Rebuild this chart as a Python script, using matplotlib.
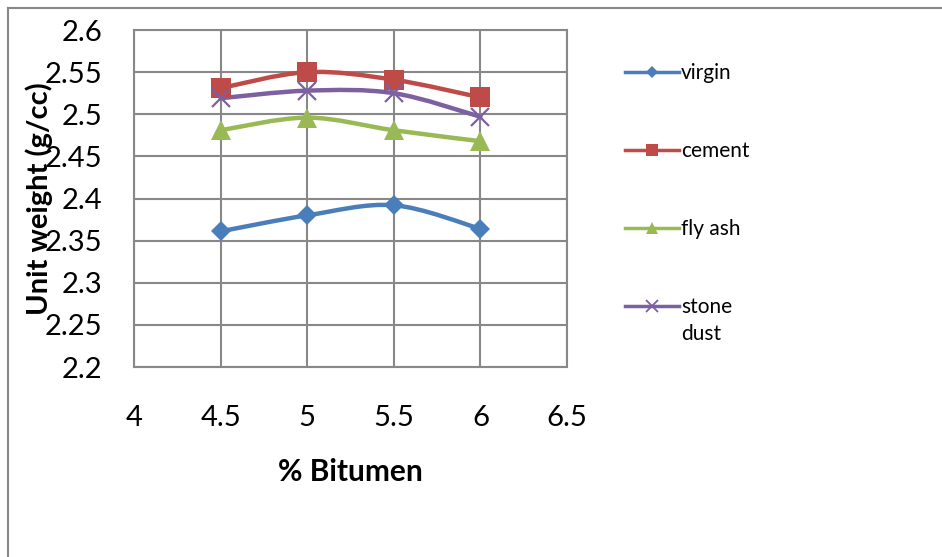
import matplotlib
matplotlib.use("Agg")
import matplotlib.pyplot as plt
from matplotlib.path import Path
from matplotlib.patches import PathPatch
from matplotlib.lines import Line2D
import numpy as np

plt.rcParams['font.family'] = ['Lato', 'DejaVu Sans']

# data
bitumen = [4.5, 5.0, 5.5, 6.0]
virgin = [2.361, 2.380, 2.392, 2.364]
cement = [2.531, 2.550, 2.541, 2.520]
fly_ash = [2.481, 2.496, 2.481, 2.468]
stone_dust = [2.519, 2.528, 2.525, 2.497]

series_names = ["virgin", "cement", "fly ash", "stone\ndust"]
series_values = [virgin, cement, fly_ash, stone_dust]
colors = ["#4A7EBB", "#BE4B48", "#98B954", "#7D60A0"]
markers = ["D", "s", "^", "x"]
marker_sizes = [10, 14, 14, 13]

x_ticks = [4, 4.5, 5, 5.5, 6, 6.5]
y_ticks = [2.2, 2.25, 2.3, 2.35, 2.4, 2.45, 2.5, 2.55, 2.6]

GRID = "#888888"
LEG_FS = 15


def smooth_path(xs, ys):
    # Excel-like smoothed line: cubic bezier segments through each point
    pts = np.column_stack([xs, ys]).astype(float)
    ext = np.vstack([pts[0], pts, pts[-1]])
    verts = [tuple(pts[0])]
    codes = [Path.MOVETO]
    for i in range(len(pts) - 1):
        p0, p1, p2, p3 = ext[i], ext[i + 1], ext[i + 2], ext[i + 3]
        c1 = p1 + (p2 - p0) / 6.0
        c2 = p2 - (p3 - p1) / 6.0
        verts += [tuple(c1), tuple(c2), tuple(p2)]
        codes += [Path.CURVE4] * 3
    return Path(verts, codes)


fig = plt.figure(figsize=(9.42, 5.57), dpi=100)
ax = fig.add_axes([134 / 942, 1 - 367 / 557, 433 / 942, 337 / 557])

handles = []
for name, vals, c, m, ms in zip(series_names, series_values, colors, markers, marker_sizes):
    ax.add_patch(PathPatch(smooth_path(bitumen, vals), facecolor="none",
                           edgecolor=c, lw=3.2, capstyle="round", joinstyle="round", zorder=3))
    mew = 1.6 if m == "x" else 0
    ax.plot(bitumen, vals, linestyle="none", marker=m, ms=ms, color=c,
            mec=c, mew=mew, zorder=4)
    handles.append(Line2D([], [], color=c, lw=2.5, marker=m, ms=ms * 0.62,
                          mec=c, mew=1.3 if m == "x" else 0))

ax.set_xlim(4, 6.5)
ax.set_ylim(2.2, 2.6)
ax.set_xticks(x_ticks)
ax.set_yticks(y_ticks)
ax.set_xticklabels([f"{v:g}" for v in x_ticks])
ax.set_yticklabels([f"{v:g}" for v in y_ticks])
ax.tick_params(length=0, labelsize=21, colors="black")
ax.tick_params(axis="x", pad=27)
ax.tick_params(axis="y", pad=23)
ax.grid(True, color=GRID, lw=1.5)
ax.set_axisbelow(True)
for s in ax.spines.values():
    s.set_color(GRID)
    s.set_linewidth(1.5)

ax.set_xlabel("% Bitumen", fontsize=21.5, fontweight="bold", labelpad=20)
ax.set_ylabel("Unit weight (g/cc)", fontsize=21, fontweight="bold")
ax.yaxis.set_label_coords(-0.188, 0.5)

# legend: first line of each name beside its key, wrapped rest as text below
first_lines = [n.split("\n")[0] for n in series_names]
leg = fig.legend(handles, first_lines, loc="upper left",
                 bbox_to_anchor=(625 / 942, 1 - 63 / 557), frameon=False,
                 fontsize=LEG_FS, handlelength=2.6, handletextpad=0.08,
                 labelspacing=2.79, borderpad=0, borderaxespad=0)
fig.canvas.draw()
inv = fig.transFigure.inverted()
for name, txt in zip(series_names, leg.get_texts()):
    rest = name.split("\n")[1:]
    if rest:
        bb = txt.get_window_extent()
        x0, y0 = inv.transform((bb.x0, bb.y0))
        fig.text(x0, y0 - 7 / 557, "\n".join(rest), fontsize=LEG_FS,
                 ha="left", va="top")

# outer chart border (top and left visible)
fig.add_artist(Line2D([8 / 942, 1], [1 - 8 / 557, 1 - 8 / 557], color=GRID, lw=1.5))
fig.add_artist(Line2D([8 / 942, 8 / 942], [1 - 8 / 557, 0], color=GRID, lw=1.5))

fig.savefig("out.png", dpi=100)
